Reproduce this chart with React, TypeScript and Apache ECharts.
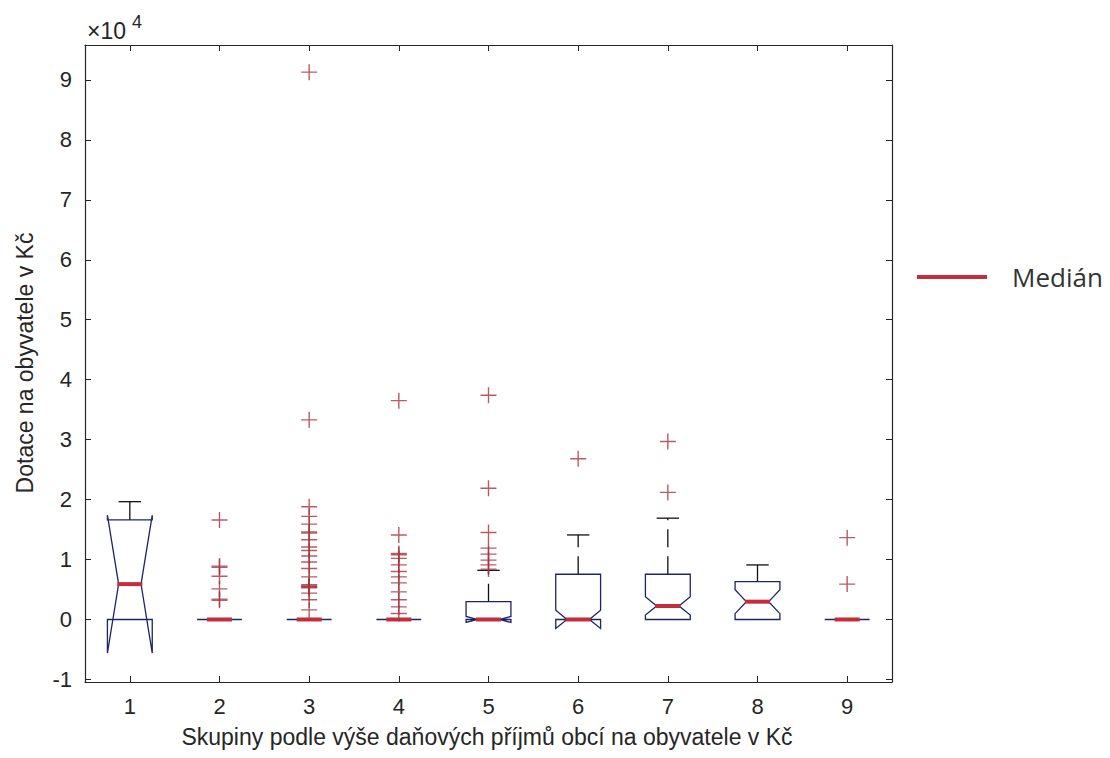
import React, { useEffect, useRef } from 'react';
import * as echarts from 'echarts';

// ---- data (values in Kč) ----
const categories = ['1', '2', '3', '4', '5', '6', '7', '8', '9'];
const q1Values = [0, 0, 0, 0, 0, 0, 0, 0, 0];
const medianValues = [5900, 0, 0, 0, 0, 0, 2250, 2970, 0];
const q3Values = [16600, 0, 0, 0, 2970, 7540, 7540, 6300, 0];
const notchLowValues = [-5600, 0, 0, 0, -500, -1500, 750, 970, 0];
const notchHighValues = [17400, 0, 0, 0, 500, 1550, 3800, 4970, 0];
const whiskerLowValues = [0, 0, 0, 0, 0, 0, 0, 0, 0];
const whiskerHighValues = [19650, 0, 0, 0, 8200, 14100, 16900, 9100, 0];

const outliers1: number[] = [];
const outliers2 = [16600, 8900, 8700, 7200, 5100, 3400, 3200];
const outliers3 = [91300, 33300, 18800, 17200, 15900, 14600, 14400, 13300, 12100, 11500, 10600, 9600, 8500, 7100, 5800, 5600, 5500, 5400, 5300, 4400, 3300, 1600];
const outliers4 = [36500, 14100, 11000, 10800, 10200, 9100, 8000, 7100, 6100, 4600, 3300, 2100, 1000];
const outliers5 = [37400, 21900, 14500, 11900, 10900, 9900, 9100, 8400];
const outliers6 = [26800];
const outliers7 = [29700, 21200];
const outliers8: number[] = [];
const outliers9 = [13650, 5900];
const outlierGroups = [outliers1, outliers2, outliers3, outliers4, outliers5, outliers6, outliers7, outliers8, outliers9];

const yTickValues = [-10000, 0, 10000, 20000, 30000, 40000, 50000, 60000, 70000, 80000, 90000];
const yMin = -10430;
const yMax = 95830;

const xTitle = 'Skupiny podle výše daňových příjmů obcí na obyvatele v Kč';
const yTitle = 'Dotace na obyvatele v Kč';
const legendLabel = 'Medián';

const FONT = 'Liberation Sans';
const TXT = '#262626';
const BOX = '#1c2566';
const MED = '#c62d3a';
const OUT = '#a8323e';

export default function App() {
  const ref = useRef<HTMLDivElement>(null);
  useEffect(() => {
    const chart = echarts.init(ref.current!, null, { renderer: 'svg' });
    const boxData = categories.map((c, i) => [
      i, q1Values[i], medianValues[i], q3Values[i], notchLowValues[i], notchHighValues[i], whiskerLowValues[i], whiskerHighValues[i],
    ]);
    const outData: number[][] = [];
    outlierGroups.forEach((arr, i) => arr.forEach((v) => outData.push([i, v])));

    const axisLineStyle = { color: TXT, width: 1.2 };

    chart.setOption({
      animation: false,
      backgroundColor: '#fff',
      grid: { left: 85, top: 45, right: 218, bottom: 76, containLabel: false },
      xAxis: [
        {
          type: 'category', data: categories, position: 'bottom', boundaryGap: true,
          axisLine: { show: true, onZero: false, lineStyle: axisLineStyle },
          axisTick: { show: true, inside: true, alignWithLabel: true, length: 6, lineStyle: { color: TXT } },
          axisLabel: { color: TXT, fontSize: 22, margin: 13, fontFamily: FONT },
          splitLine: { show: false },
        },
        {
          type: 'category', data: categories, position: 'top', boundaryGap: true,
          axisLine: { show: true, onZero: false, lineStyle: axisLineStyle },
          axisTick: { show: true, inside: true, alignWithLabel: true, length: 6, lineStyle: { color: TXT } },
          axisLabel: { show: false },
          splitLine: { show: false },
        },
      ],
      yAxis: [
        {
          type: 'value', min: yMin, max: yMax, position: 'left', splitNumber: 10,
          axisLine: { show: true, onZero: false, lineStyle: axisLineStyle },
          axisTick: { show: true, inside: true, length: 6, lineStyle: { color: TXT }, customValues: yTickValues },
          axisLabel: {
            color: TXT, fontSize: 22, margin: 13, fontFamily: FONT, customValues: yTickValues,
            formatter: (v: number) => String(Math.round(v / 10000)),
          },
          splitLine: { show: false },
        },
        {
          type: 'value', min: yMin, max: yMax, position: 'right', splitNumber: 10,
          axisLine: { show: true, onZero: false, lineStyle: axisLineStyle },
          axisTick: { show: true, inside: true, length: 6, lineStyle: { color: TXT }, customValues: yTickValues },
          axisLabel: { show: false },
          splitLine: { show: false },
        },
      ],
      series: [
        {
          type: 'custom',
          xAxisIndex: 0,
          yAxisIndex: 0,
          z: 2,
          encode: { x: 0, y: [1, 2, 3, 4, 5, 6, 7] },
          data: boxData,
          renderItem: (params: any, api: any) => {
            const i = api.value(0);
            const band = api.size([1, 0])[0];
            const cx = api.coord([i, 0])[0];
            const Y = (v: number) => api.coord([i, v])[1];
            const w = band * 0.25;
            const n = band * 0.125;
            const cw = band * 0.125;
            const mw = band * 0.14;
            const q1 = api.value(1), md = api.value(2), q3 = api.value(3);
            const nl = api.value(4), nh = api.value(5), wl = api.value(6), wh = api.value(7);
            const children: any[] = [];
            if (wh > q3) {
              children.push({ type: 'line', shape: { x1: cx, y1: Y(q3), x2: cx, y2: Y(wh) }, style: { stroke: '#111', lineWidth: 1.3, lineDash: [18, 9] } });
              children.push({ type: 'line', shape: { x1: cx - cw, y1: Y(wh), x2: cx + cw, y2: Y(wh) }, style: { stroke: '#111', lineWidth: 1.3 } });
            }
            if (wl < q1) {
              children.push({ type: 'line', shape: { x1: cx, y1: Y(q1), x2: cx, y2: Y(wl) }, style: { stroke: '#111', lineWidth: 1.3, lineDash: [18, 9] } });
              children.push({ type: 'line', shape: { x1: cx - cw, y1: Y(wl), x2: cx + cw, y2: Y(wl) }, style: { stroke: '#111', lineWidth: 1.3 } });
            }
            const pts = [
              [cx - w, Y(q1)], [cx - w, Y(nl)], [cx - n, Y(md)], [cx - w, Y(nh)], [cx - w, Y(q3)],
              [cx + w, Y(q3)], [cx + w, Y(nh)], [cx + n, Y(md)], [cx + w, Y(nl)], [cx + w, Y(q1)],
            ];
            children.push({ type: 'polygon', shape: { points: pts }, style: { fill: 'none', stroke: BOX, lineWidth: 1.3 } });
            children.push({ type: 'line', shape: { x1: cx - mw, y1: Y(md), x2: cx + mw, y2: Y(md) }, style: { stroke: MED, lineWidth: 4 } });
            return { type: 'group', children };
          },
        },
        {
          type: 'scatter',
          xAxisIndex: 0,
          yAxisIndex: 0,
          z: 3,
          data: outData,
          symbol: 'path://M0,7.3H16V8.7H0Z M7.3,0H8.7V16H7.3Z',
          symbolSize: 16,
          itemStyle: { color: OUT },
          silent: true,
        },
      ],
      graphic: [
        { type: 'text', x: 87, y: 31, style: { text: '×10', fontSize: 23, fontFamily: FONT, fill: TXT, textVerticalAlign: 'middle', textAlign: 'left' } },
        { type: 'text', x: 132, y: 22, style: { text: '4', fontSize: 18, fontFamily: FONT, fill: TXT, textVerticalAlign: 'middle', textAlign: 'left' } },
        { type: 'text', x: 487, y: 737, style: { text: xTitle, fontSize: 23, fontFamily: FONT, fill: TXT, textAlign: 'center', textVerticalAlign: 'middle' } },
        { type: 'text', x: 25, y: 363, rotation: Math.PI / 2, style: { text: yTitle, fontSize: 23, fontFamily: FONT, fill: TXT, textAlign: 'center', textVerticalAlign: 'middle' } },
        { type: 'line', shape: { x1: 917, y1: 277, x2: 987, y2: 277 }, style: { stroke: MED, lineWidth: 4 } },
        { type: 'text', x: 1012, y: 277, style: { text: legendLabel, fontSize: 26, fontFamily: 'Open Sans', fill: '#333', textAlign: 'left', textVerticalAlign: 'middle' } },
      ],
    });
    return () => chart.dispose();
  }, []);
  return <div ref={ref} style={{ position: 'fixed', left: 0, top: 0, width: 1110, height: 758, background: '#fff' }} />;
}
